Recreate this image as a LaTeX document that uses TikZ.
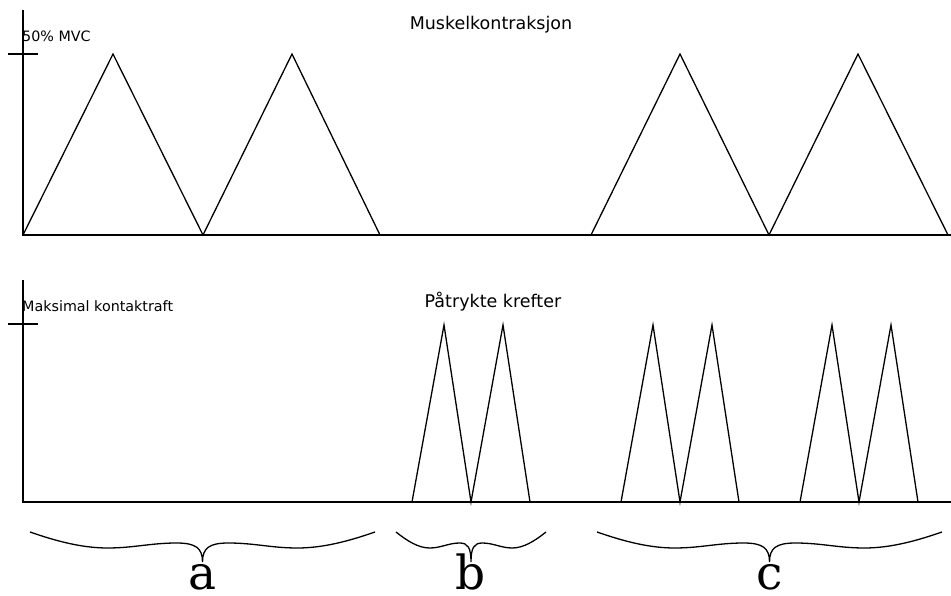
\documentclass[tikz,border=0pt]{standalone}
\usepackage{fontspec}
\setmainfont{DejaVu Sans}
\newfontfamily\bracefont{DejaVu Serif}
\usetikzlibrary{positioning,calc}

\begin{document}
\begin{tikzpicture}[
  x=1pt, y=-1pt,
  axis/.style={line width=1.3pt},
  curve/.style={line width=1.3pt, line join=miter},
  brc/.style={line width=1.3pt},
  title/.style={font=\fontsize{17.5}{20}\selectfont, inner sep=0pt},
  lab/.style={font=\fontsize{14.3}{16}\selectfont, inner sep=0pt, anchor=west},
  letter/.style={font=\bracefont\fontsize{47}{50}\selectfont, inner sep=0pt,
    text depth=0pt, anchor=base}
]
  \useasboundingbox (0,0) rectangle (951,596);

  % --- upper axes: muscle contraction ------------------------------------
  \coordinate (o1) at (23,235);
  \draw[axis] (23,10) -- (o1) -- (951,235);
  \draw[axis] (8,54) -- (38,54);
  \node[lab] (mvc) at (22,36) {50\% MVC};
  \node[title] (mk) at (491,25) {Muskelkontraksjon};

  \draw[curve] (o1) -- (113,54) -- (203,235) -- (292,54) -- (380,235);
  \draw[curve] (591,235) -- (680,54) -- (769,235) -- (858,54) -- (948,235);

  % --- lower axes: applied forces ---------------------------------------
  \coordinate (o2) at (23,502);
  \draw[axis] (23,280) -- (o2) -- (951,502);
  \draw[axis] (8,324) -- (38,324);
  \node[lab] (mkf) at (22,306) {Maksimal kontaktraft};
  \node[title] (pk) at (493,302) {Påtrykte krefter};

  \foreach \s in {412,621,800}
    \draw[curve] (\s,502) -- ++(32,-177) -- ++(27,177) -- ++(32,-177) -- ++(27,177);

  % --- braces a, b, c ----------------------------------------------------
  \foreach \xl/\xr/\txt in {30/375/a, 396/546/b, 597/942/c} {
    \pgfmathsetmacro\h{(\xr-\xl)/2}
    \pgfmathsetmacro\xm{(\xr+\xl)/2}
    \draw[brc] (\xl,532)
      .. controls (\xl+0.15*\h,541) and (\xl+0.3*\h,548) .. (\xl+0.45*\h,548)
      .. controls (\xl+0.6*\h,548) and (\xm-0.3*\h,543) .. (\xm-0.15*\h,543)
      .. controls (\xm-0.04*\h,543) and (\xm,548) .. (\xm,562)
      .. controls (\xm,548) and (\xm+0.04*\h,543) .. (\xm+0.15*\h,543)
      .. controls (\xm+0.3*\h,543) and (\xr-0.6*\h,548) .. (\xr-0.45*\h,548)
      .. controls (\xr-0.3*\h,548) and (\xr-0.15*\h,541) .. (\xr,532);
    \node[letter] (br-\txt) at (\xm,589) {\txt};
  }
\end{tikzpicture}
\end{document}
